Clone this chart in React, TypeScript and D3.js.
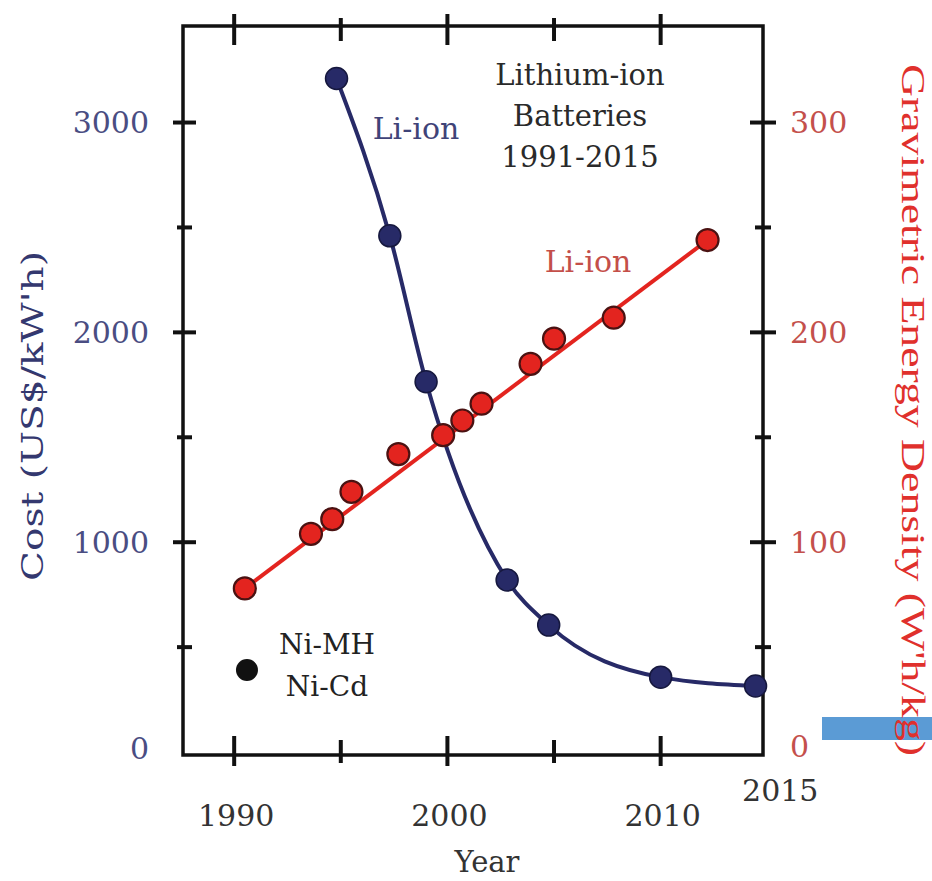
import React from 'react';
import * as d3 from 'd3';

// Li-ion cost (US$/kWh) by year
const costYears = [1994.8, 1997.3, 1999.0, 2002.8, 2004.75, 2010.0, 2014.45];
const costValues = [3210, 2460, 1765, 820, 605, 357, 315];

// Li-ion gravimetric energy density (Wh/kg) by year
const densityYears = [1990.5, 1993.6, 1994.6, 1995.5, 1997.7, 1999.8, 2000.7, 2001.6, 2003.9, 2005.0, 2007.8, 2012.2];
const densityValues = [78, 104, 111, 124, 142, 151, 158, 166, 185, 197, 207, 244];

// Ni-MH / Ni-Cd reference point
const nickelYears = [1990.6];
const nickelCosts = [391];

const yearTicks = [1990, 1995, 2000, 2005, 2010];
const yearLabels = [1990, 2000, 2010];
const costTicks = [0, 500, 1000, 1500, 2000, 2500, 3000];
const costLabels = [0, 1000, 2000, 3000];
const densityTicks = [0, 50, 100, 150, 200, 250, 300];
const densityLabels = [0, 100, 200, 300];

const BLUE = '#272a67';
const RED = '#e3241f';
const SERIF = '"DejaVu Serif", serif';

export default function App() {
  const left = 183, right = 763, top = 26, bottom = 755;

  const x = d3.scaleLinear().domain([1987.6, 2014.8]).range([left, right]);
  const yCost = d3.scaleLinear().domain([-14, 3460]).range([bottom, top]);
  const yDens = d3.scaleLinear().domain([-1.4, 346]).range([bottom, top]);

  const costPts = costYears.map((yr, i) => [yr, costValues[i]]);
  const densPts = densityYears.map((yr, i) => [yr, densityValues[i]]);

  const costLine = d3.line<number[]>()
    .x(d => x(d[0]))
    .y(d => yCost(d[1]))
    .curve(d3.curveMonotoneX);

  // straight trend from first to last measurement
  const trend = [densPts[0], densPts[densPts.length - 1]];
  const densLine = d3.line<number[]>()
    .x(d => x(d[0]))
    .y(d => yDens(d[1]));

  const tickW = 4;

  return (
    <svg width={932} height={881} style={{ position: 'absolute', left: 0, top: 0, background: '#fff' }}>
      {/* frame */}
      <rect x={left} y={top} width={right - left} height={bottom - top} fill="none" stroke="#111" strokeWidth={3.5} />

      {/* x ticks, top and bottom */}
      {yearTicks.map(t => {
        const major = t % 10 === 0;
        return (
          <g key={'xt' + t} stroke="#111" strokeWidth={tickW}>
            <line x1={x(t)} x2={x(t)} y1={bottom + (major ? 11 : 8)} y2={bottom - (major ? 19 : 15)} />
            <line x1={x(t)} x2={x(t)} y1={top - (major ? 12 : 8)} y2={top + (major ? 19 : 15)} />
          </g>
        );
      })}

      {/* left ticks */}
      {costTicks.map(t => {
        const major = t % 1000 === 0;
        if (t === 0) return null;
        return (
          <line key={'lt' + t} stroke="#111" strokeWidth={tickW}
            x1={left - (major ? 10 : 6)} x2={left + (major ? 13 : 9)} y1={yCost(t)} y2={yCost(t)} />
        );
      })}

      {/* right ticks */}
      {densityTicks.map(t => {
        const major = t % 100 === 0;
        if (t === 0) return null;
        return (
          <line key={'rt' + t} stroke="#111" strokeWidth={tickW}
            x1={right - (major ? 13 : 8)} x2={right + (major ? 13 : 8)} y1={yDens(t)} y2={yDens(t)} />
        );
      })}

      {/* tick labels */}
      {yearLabels.map(t => (
        <text key={'xl' + t} x={x(t) + 2} y={815} fontFamily={SERIF} fontSize={30} fill="#333"
          textAnchor="middle" dominantBaseline="central">{t}</text>
      ))}
      <text x={x(2015) + 13} y={790} fontFamily={SERIF} fontSize={30} fill="#333"
        textAnchor="middle" dominantBaseline="central">2015</text>

      {costLabels.map(t => (
        <text key={'cl' + t} x={149} y={yCost(t) - (t === 0 ? 4 : 0)} fontFamily={SERIF} fontSize={30} fill="#4a4d82"
          textAnchor="end" dominantBaseline="central">{t}</text>
      ))}
      {densityLabels.map(t => (
        <text key={'dl' + t} x={790} y={yDens(t) - (t === 0 ? 6 : 0)} fontFamily={SERIF} fontSize={30} fill="#c4504c"
          textAnchor="start" dominantBaseline="central">{t}</text>
      ))}

      {/* axis titles */}
      <text x={487} y={862} fontFamily={SERIF} fontSize={29} fill="#333" textAnchor="middle"
        dominantBaseline="central">Year</text>
      <text transform="translate(32,416) rotate(-90)" fontFamily={SERIF} fontSize={30} fill="#34386f"
        textAnchor="middle" dominantBaseline="central" textLength={330} lengthAdjust="spacingAndGlyphs">
        Cost (US$/kW'h)
      </text>

      {/* stray blue bar from the source image */}
      <rect x={822} y={717} width={110} height={23} fill="#5b9bd5" />

      <text transform="translate(913,410) rotate(90)" fontFamily='"Liberation Serif", serif' fontSize={33} fill="#e0302c"
        textAnchor="middle" dominantBaseline="central" textLength={692} lengthAdjust="spacingAndGlyphs">
        Gravimetric Energy Density (W'h/kg)
      </text>

      {/* series lines */}
      <path d={costLine(costPts) || ''} fill="none" stroke={BLUE} strokeWidth={4} />
      <path d={densLine(trend) || ''} fill="none" stroke={RED} strokeWidth={4} />

      {/* markers */}
      {densPts.map((d, i) => (
        <circle key={'dp' + i} cx={x(d[0])} cy={yDens(d[1])} r={11} fill={RED} stroke="#4a1212" strokeWidth={2.2} />
      ))}
      {costPts.map((d, i) => (
        <circle key={'cp' + i} cx={x(d[0])} cy={yCost(d[1])} r={11} fill={BLUE} stroke="#16183e" strokeWidth={1.5} />
      ))}
      {nickelYears.map((yr, i) => (
        <circle key={'np' + i} cx={x(yr)} cy={yCost(nickelCosts[i])} r={11} fill="#111" />
      ))}

      {/* annotations */}
      <text x={416} y={128} fontFamily={SERIF} fontSize={30} fill="#3f4378" textAnchor="middle"
        dominantBaseline="central">Li-ion</text>
      <text x={588} y={261} fontFamily={SERIF} fontSize={30} fill="#c44f49" textAnchor="middle"
        dominantBaseline="central">Li-ion</text>
      <g fontFamily={SERIF} fontSize={29} fill="#2a2a2a" textAnchor="middle">
        <text x={580} y={75} dominantBaseline="central">Lithium-ion</text>
        <text x={580} y={116} dominantBaseline="central">Batteries</text>
        <text x={580} y={157} dominantBaseline="central">1991-2015</text>
      </g>
      <g fontFamily={SERIF} fontSize={28} fill="#222" textAnchor="middle">
        <text x={327} y={644} dominantBaseline="central">Ni-MH</text>
        <text x={327} y={686} dominantBaseline="central">Ni-Cd</text>
      </g>
    </svg>
  );
}
